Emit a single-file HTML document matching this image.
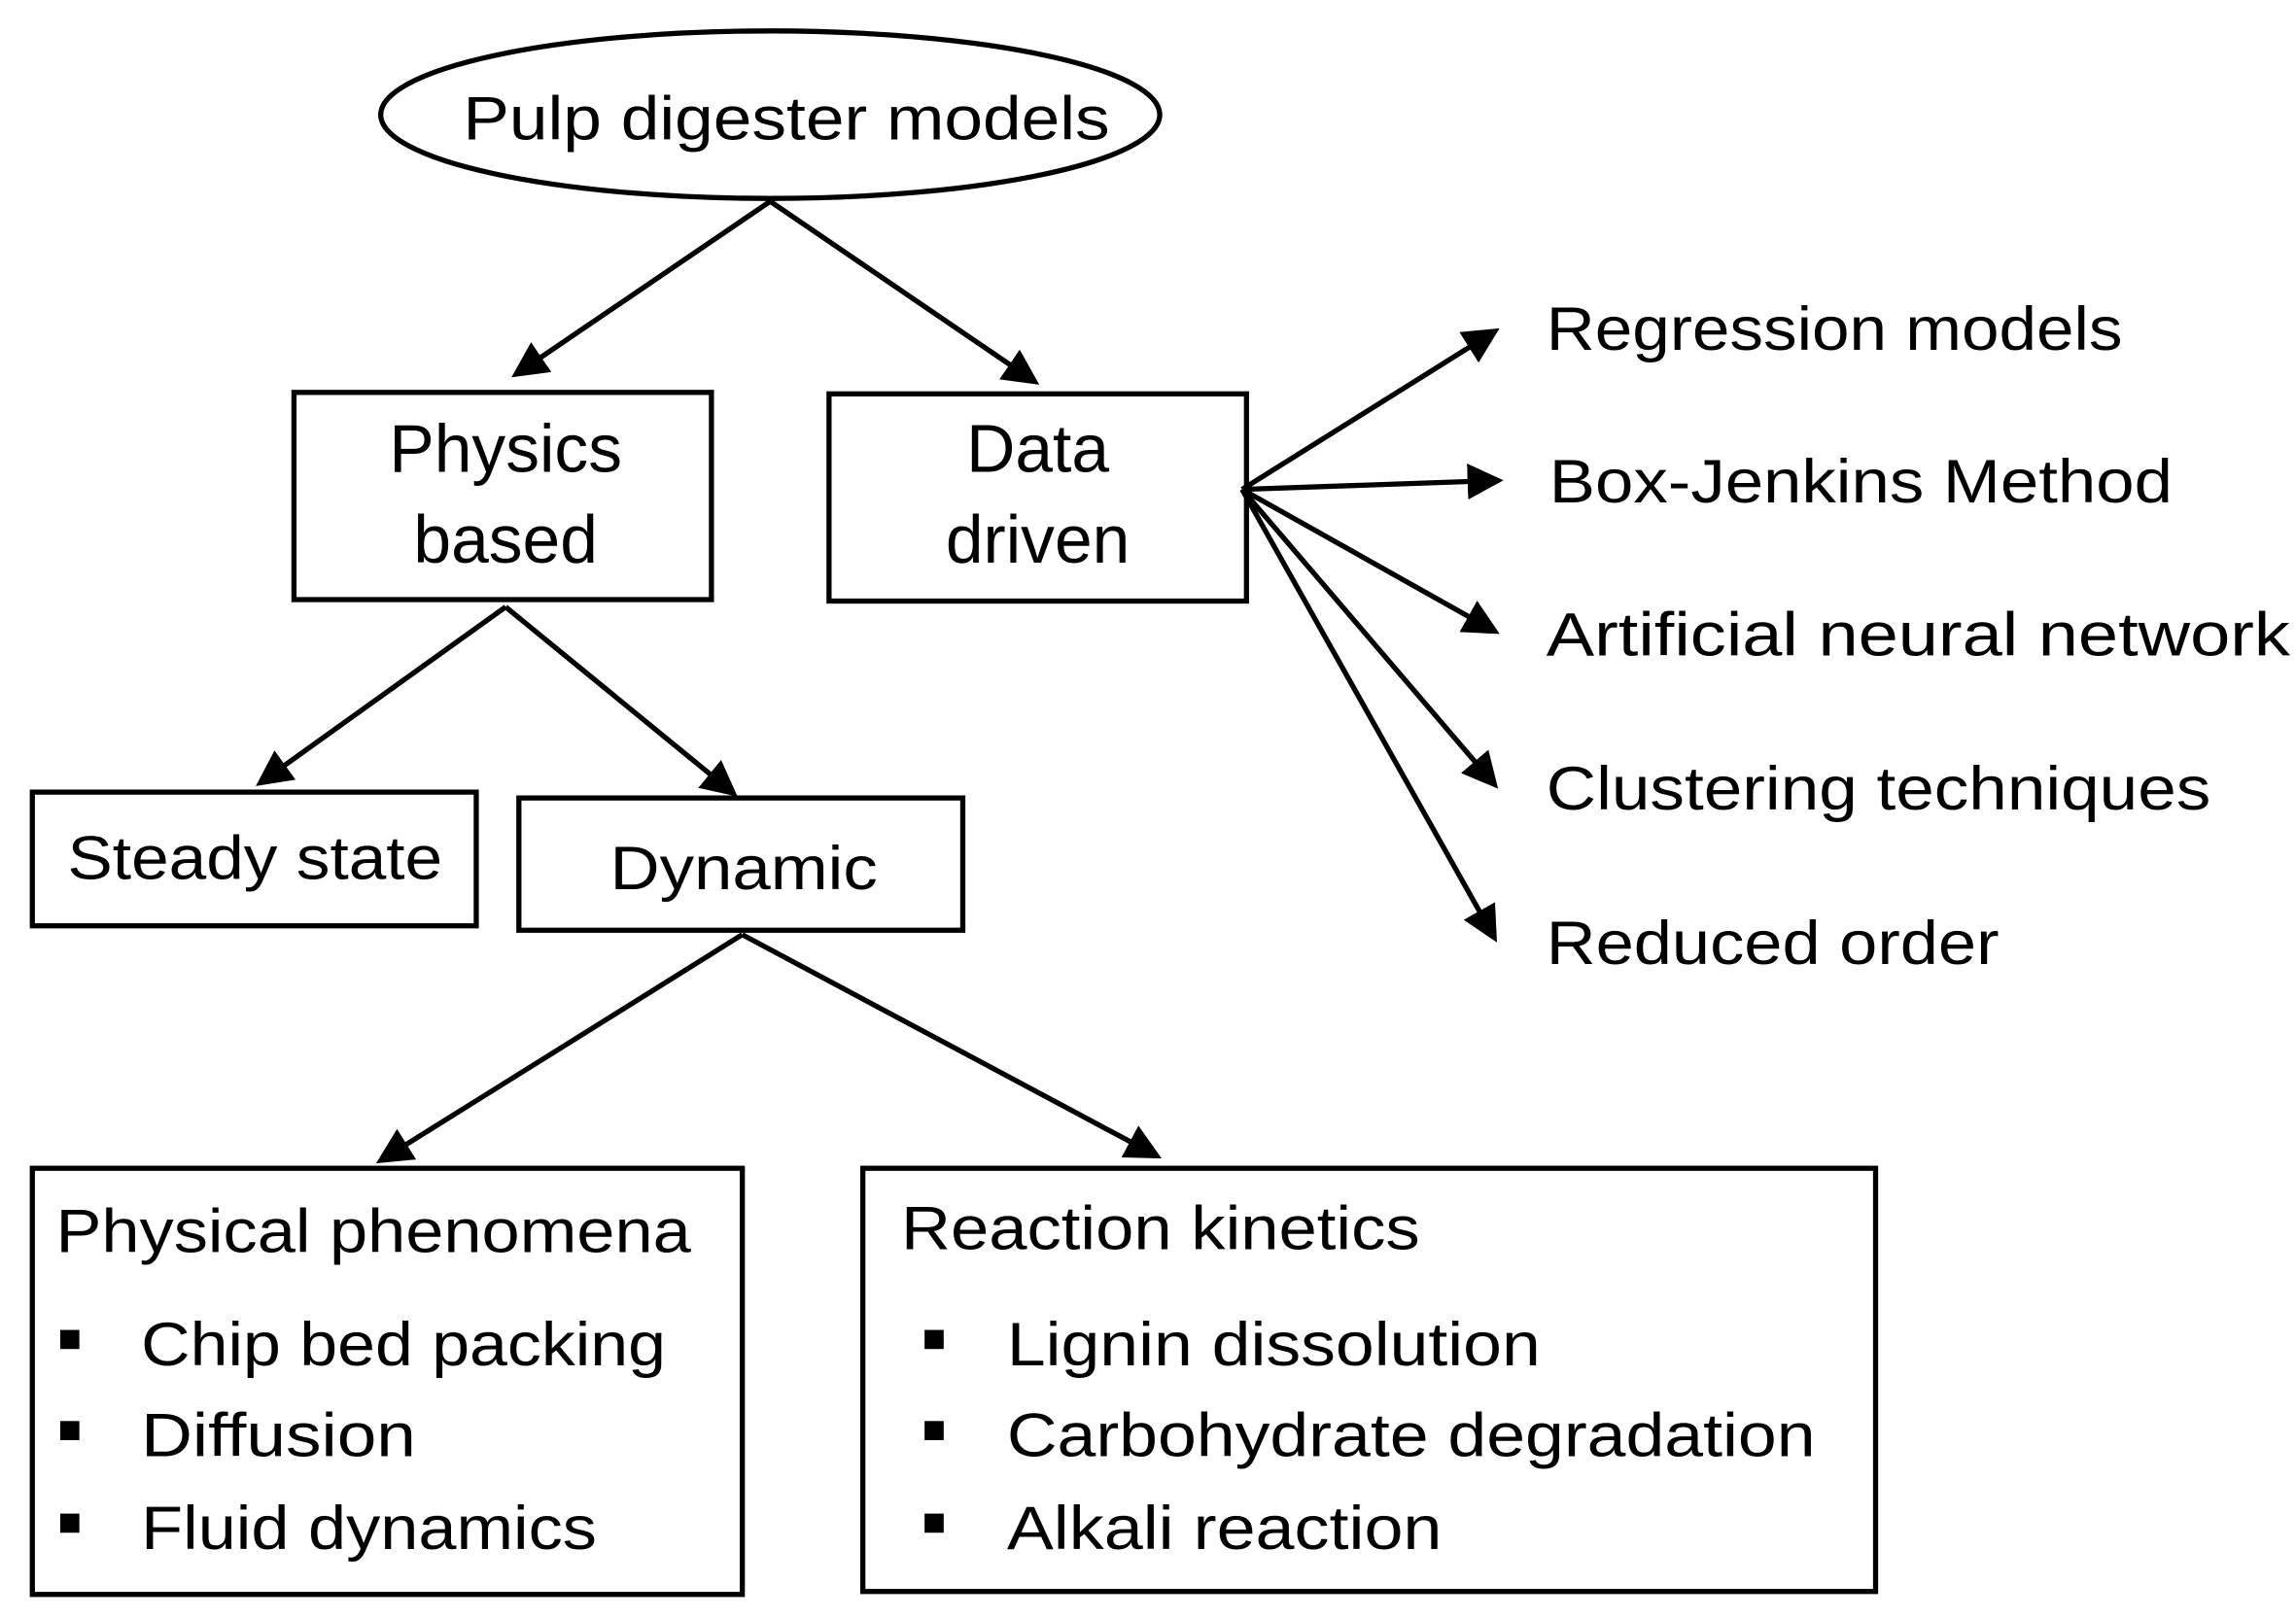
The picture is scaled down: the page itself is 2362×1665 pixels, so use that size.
<!DOCTYPE html>
<html><head><meta charset="utf-8"><style>
html,body{margin:0;padding:0;background:#fff}
svg{display:block}
text{font-family:"Liberation Sans",sans-serif;font-size:42px;fill:#000}
.b{font-size:46px}
</style></head><body>
<svg width="2362" height="1665" viewBox="0 0 1562 1101" xmlns="http://www.w3.org/2000/svg">
<defs>
<marker id="a" viewBox="0 0 10 10" refX="8" refY="5" markerWidth="7" markerHeight="7" markerUnits="strokeWidth" orient="auto">
<path d="M0,0 L10,5 L0,10 z" fill="#000"/></marker>
</defs>
<g stroke="#000" stroke-width="3.5" fill="none">
<ellipse cx="524" cy="78" rx="265" ry="57"/>
<rect x="200" y="267" width="284" height="141"/>
<rect x="564" y="268" width="284" height="141"/>
<rect x="22" y="539" width="302" height="91"/>
<rect x="353" y="543" width="302" height="90"/>
<rect x="22" y="795" width="483" height="290"/>
<rect x="587" y="795" width="689" height="288"/>
<g marker-end="url(#a)" stroke-linecap="butt">
<line x1="524" y1="137" x2="352" y2="254"/>
<line x1="524" y1="137" x2="703" y2="259"/>
<line x1="845" y1="333" x2="1016" y2="226"/>
<line x1="845" y1="333" x2="1018" y2="327"/>
<line x1="845" y1="333" x2="1016" y2="429"/>
<line x1="845" y1="333" x2="1016" y2="533"/>
<line x1="845" y1="333" x2="1016" y2="637"/>
<line x1="344" y1="413" x2="178" y2="532"/>
<line x1="344" y1="413" x2="498" y2="539"/>
<line x1="505" y1="636" x2="260" y2="789"/>
<line x1="505" y1="636" x2="786" y2="786"/>
</g>
</g>
<text x="315" y="95" textLength="440" lengthAdjust="spacingAndGlyphs">Pulp digester models</text>
<text class="b" x="344" y="321" text-anchor="middle">Physics</text>
<text class="b" x="344" y="383" text-anchor="middle">based</text>
<text class="b" x="706" y="321" text-anchor="middle">Data</text>
<text class="b" x="706" y="383" text-anchor="middle">driven</text>
<text x="1052" y="238" textLength="392" lengthAdjust="spacingAndGlyphs">Regression models</text>
<text x="1054" y="342" textLength="424" lengthAdjust="spacingAndGlyphs">Box-Jenkins Method</text>
<text x="1052" y="446" textLength="506" lengthAdjust="spacingAndGlyphs">Artificial neural network</text>
<text x="1052" y="551" textLength="452" lengthAdjust="spacingAndGlyphs">Clustering techniques</text>
<text x="1052" y="656" textLength="308" lengthAdjust="spacingAndGlyphs">Reduced order</text>
<text x="46" y="598" textLength="255" lengthAdjust="spacingAndGlyphs">Steady state</text>
<text x="415" y="605" textLength="182" lengthAdjust="spacingAndGlyphs">Dynamic</text>
<text x="38" y="852" textLength="432" lengthAdjust="spacingAndGlyphs">Physical phenomena</text>
<text x="613" y="850" textLength="353" lengthAdjust="spacingAndGlyphs">Reaction kinetics</text>
<g fill="#000">
<rect x="41" y="905" width="13" height="13"/><rect x="41" y="967" width="13" height="13"/><rect x="41" y="1030" width="13" height="13"/>
<rect x="629" y="905" width="13" height="13"/><rect x="629" y="967" width="13" height="13"/><rect x="629" y="1030" width="13" height="13"/>
</g>
<text x="96" y="929" textLength="357" lengthAdjust="spacingAndGlyphs">Chip bed packing</text>
<text x="96" y="991" textLength="187" lengthAdjust="spacingAndGlyphs">Diffusion</text>
<text x="96" y="1054" textLength="310" lengthAdjust="spacingAndGlyphs">Fluid dynamics</text>
<text x="685" y="929" textLength="363" lengthAdjust="spacingAndGlyphs">Lignin dissolution</text>
<text x="685" y="991" textLength="550" lengthAdjust="spacingAndGlyphs">Carbohydrate degradation</text>
<text x="685" y="1054" textLength="296" lengthAdjust="spacingAndGlyphs">Alkali reaction</text>
</svg>
</body></html>
